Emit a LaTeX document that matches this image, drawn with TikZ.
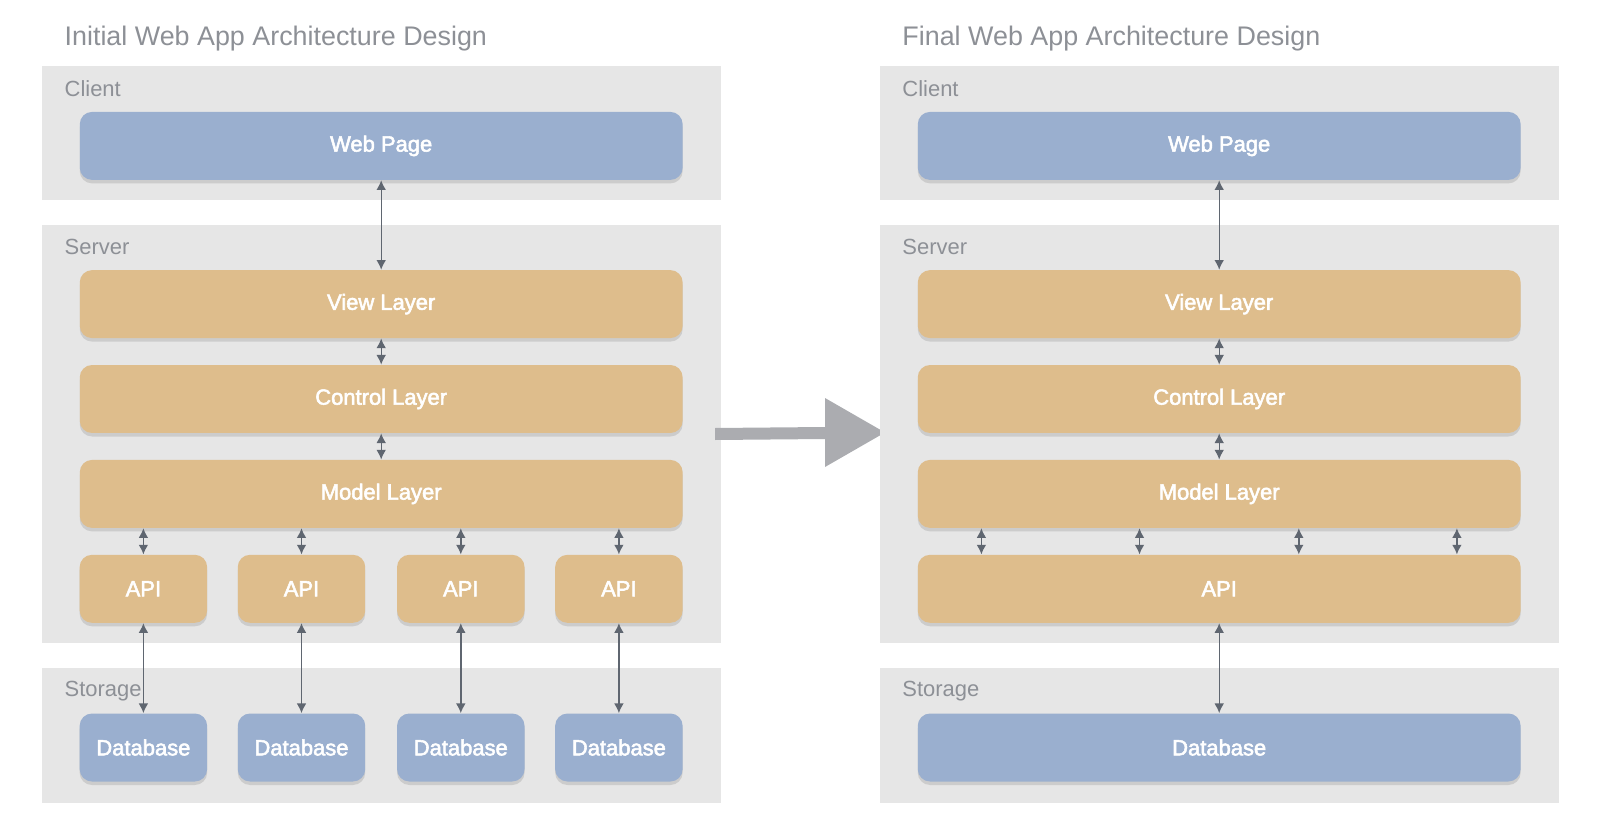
\documentclass[tikz,border=0pt]{standalone}
\usepackage{fontspec}
\setmainfont{Liberation Sans}
\newfontfamily\boxfont[FakeBold=2.5]{Liberation Sans}
\usepackage{tikz}
\usepackage{xcolor}
\usetikzlibrary{
    arrows,
    arrows.meta,
    shadows,
    calc,
    positioning
}
\definecolor{panelgray}{HTML}{E6E6E6}
\definecolor{labelgray}{HTML}{8D9096}
\definecolor{boxblue}{HTML}{9AAFCF}
\definecolor{boxtan}{HTML}{DEBD8C}
\definecolor{linkgray}{HTML}{5F6670}
\definecolor{bigarrowgray}{HTML}{ABACB0}

\begin{document}
\begin{tikzpicture}[x=0.02cm, y=-0.02cm,
    panel/.style={fill=panelgray, minimum width=13.59cm, inner sep=0pt},
    panellabel/.style={anchor=west, text=labelgray, font=\fontsize{12.5}{14}\selectfont, inner sep=0pt},
    title/.style={anchor=west, text=labelgray, font=\fontsize{15.3}{18}\selectfont, inner sep=0pt},
    layer/.style={rounded corners=7pt, minimum height=1.36cm, text=white,
        font=\boxfont\fontsize{12.5}{14}\selectfont,
        drop shadow={opacity=0.25, shadow xshift=0pt, shadow yshift=-2pt}},
    wide/.style={layer, minimum width=12.06cm},
    small/.style={layer, minimum width=2.55cm},
    biarrow/.style={{Latex[length=5.5pt,width=5.5pt]}-{Latex[length=5.5pt,width=5.5pt]},
        draw=linkgray, line width=0.8pt}
]
                        \useasboundingbox (0,0) rectangle (1600,835);

                        % initial design
                        \node[title] (t1) at (64.3, 38.8) {Initial Web App Architecture Design};
                        \node[panel, minimum height=2.67cm] (client1) at (381.6, 133.2) {};
                        \node[panel, minimum height=8.35cm] (server1) at (381.6, 434.2) {};
                        \node[panel, minimum height=2.69cm] (storage1) at (381.6, 735.7) {};
                        \node[panellabel] (lc1) at (64.3, 88.8) {Client};
                        \node[panellabel] (ls1) at (64.3, 247) {Server};
                        \node[panellabel] (lst1) at (64.3, 690.8) {Storage};

                        \node[wide, fill=boxblue] (web1) at (381.2, 145.9) {Web Page};
                        \node[wide, fill=boxtan] (view1) at (381.2, 304.1) {View Layer};
                        \node[wide, fill=boxtan] (ctrl1) at (381.2, 399) {Control Layer};
                        \node[wide, fill=boxtan] (model1) at (381.2, 493.9) {Model Layer};
                        \foreach \i/\x in {1/143.4, 2/301.5, 3/460.8, 4/618.9} {
                            \node[small, fill=boxtan] (api\i) at (\x, 588.8) {API};
                            \node[small, fill=boxblue] (db\i) at (\x, 747.5) {Database};
                        }

                        \draw
                        (web1) edge[biarrow] (view1)
                        (view1) edge[biarrow] (ctrl1)
                        (ctrl1) edge[biarrow] (model1);
                        \foreach \i in {1,...,4} {
                            \draw[biarrow] (api\i |- model1.south) -- (api\i);
                            \draw[biarrow] (api\i) -- (db\i);
                        }

                        % big arrow
                        \fill[bigarrowgray] (715,428) -- (825,427) -- (825,398) -- (885,432.5)
                            -- (825,467) -- (825,439) -- (715,440) -- cycle;

                        % final design
                        \node[title] (t2) at (902.1, 38.8) {Final Web App Architecture Design};
                        \node[panel, minimum height=2.67cm] (client2) at (1219.6, 133.2) {};
                        \node[panel, minimum height=8.35cm] (server2) at (1219.6, 434.2) {};
                        \node[panel, minimum height=2.69cm] (storage2) at (1219.6, 735.7) {};
                        \node[panellabel] (lc2) at (902.1, 88.8) {Client};
                        \node[panellabel] (ls2) at (902.1, 247) {Server};
                        \node[panellabel] (lst2) at (902.1, 690.8) {Storage};

                        \node[wide, fill=boxblue] (web2) at (1219.2, 145.9) {Web Page};
                        \node[wide, fill=boxtan] (view2) at (1219.2, 304.1) {View Layer};
                        \node[wide, fill=boxtan] (ctrl2) at (1219.2, 399) {Control Layer};
                        \node[wide, fill=boxtan] (model2) at (1219.2, 493.9) {Model Layer};
                        \node[wide, fill=boxtan] (api5) at (1219.2, 588.8) {API};
                        \node[wide, fill=boxblue] (db5) at (1219.2, 747.5) {Database};

                        \draw
                        (web2) edge[biarrow] (view2)
                        (view2) edge[biarrow] (ctrl2)
                        (ctrl2) edge[biarrow] (model2)
                        (api5) edge[biarrow] (db5);
                        \foreach \dx in {-237.8, -79.7, 79.6, 237.7}
                            \draw[biarrow] ([xshift=\dx*0.02cm]model2.south) -- ([xshift=\dx*0.02cm]api5.north);
                    \end{tikzpicture}
\end{document}
